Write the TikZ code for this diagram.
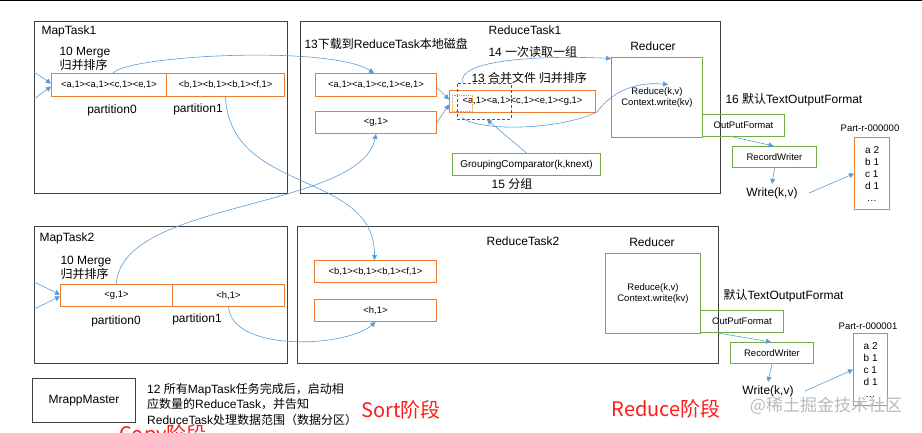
\documentclass[tikz,border=0pt]{standalone}
\usepackage{fontspec}
\setmainfont{Liberation Sans}
\newfontfamily\zhfont{Noto Sans CJK SC}
\usetikzlibrary{arrows.meta}
\definecolor{framegray}{HTML}{404040}
\definecolor{boxorange}{HTML}{ED7D31}
\definecolor{boxgreen}{HTML}{70AD47}
\definecolor{flowblue}{HTML}{5B9BD5}
\definecolor{phasered}{HTML}{FF1A1A}

\begin{document}
\begin{tikzpicture}[x=1pt, y=-1pt, font=\fontsize{12}{14}\selectfont,
  task/.style={draw=framegray, line width=1.2pt, anchor=north west, inner sep=0pt},
  kvbox/.style={draw=boxorange, line width=1pt, anchor=north west, inner sep=0pt,
                font=\fontsize{9.4}{10}\selectfont},
  fnbox/.style={draw=boxgreen, line width=1pt, anchor=north west, inner sep=0pt,
                font=\fontsize{9.5}{11.5}\selectfont},
  outfile/.style={draw=boxorange, line width=1.3pt, anchor=north west, inner sep=0pt,
                  align=left, font=\fontsize{10}{12}\selectfont},
  flow/.style={flowblue, line width=0.6pt, -{Triangle[length=5pt, width=5pt]}},
  phase/.style={text=phasered, font=\zhfont\fontsize{20}{22}\selectfont}]

\path[use as bounding box] (0,0) rectangle (922,432);
\clip (0,0) rectangle (922,432);
\draw[black, line width=1.3pt] (0,0.7) -- (922,0.7);

% ---- task frames --------------------------------------------------------
\node[task, minimum width=253pt, minimum height=172pt] (mapA) at (34,21) {};
\node[task, minimum width=420pt, minimum height=172pt] (redTA) at (300,21) {};
\node[task, minimum width=253pt, minimum height=137pt] (mapB) at (34,226) {};
\node[task, minimum width=421pt, minimum height=137pt] (redTB) at (297,226) {};
\node[task, line width=1pt, minimum width=103pt, minimum height=44pt] (master) at (32,378) {MrappMaster};

% ---- MapTask1 -----------------------------------------------------------
\node[anchor=west] (mapAlbl) at (38,31) {MapTask1};
\node[anchor=west, align=left] (mergeA) at (56,58.5) {10 Merge\\{\zhfont 归并排序}};
\node[kvbox, minimum width=115pt, minimum height=23pt] (pA0) at (51,73) {<a,1><a,1><c,1><e,1>};
\node[kvbox, minimum width=118pt, minimum height=23pt] (pA1) at (166,73) {<b,1><b,1><b,1><f,1>};
\node (pA0lbl) at (112,110) {partition0};
\node (pA1lbl) at (198,109) {partition1};
\coordinate (inA1) at (34,72);
\coordinate (inA2) at (34,99);

% ---- MapTask2 -----------------------------------------------------------
\node[anchor=west] (mapBlbl) at (36,238) {MapTask2};
\node[anchor=west, align=left] (mergeB) at (57,268) {10 Merge\\{\zhfont 归并排序}};
\node[kvbox, minimum width=112pt, minimum height=22pt] (pB0) at (60,284) {<g,1>};
\node[kvbox, minimum width=112pt, minimum height=22pt] (pB1) at (172,284) {<h,1>};
\node (pB0lbl) at (116,321) {partition0};
\node (pB1lbl) at (197,319) {partition1};
\coordinate (inB1) at (34,282);
\coordinate (inB2) at (34,309);

% ---- ReduceTask1 --------------------------------------------------------
\node (redTAlbl) at (525,30) {ReduceTask1};
\node[anchor=west] (copyA) at (301,44) {13{\zhfont 下载到}ReduceTask{\zhfont 本地磁盘}};
\node[anchor=west] (readA) at (485,52) {14 {\zhfont 一次读取一组}};
\node[anchor=west] (sortA) at (468,78) {13 {\zhfont 合并文件 归并排序}};
\node[kvbox, minimum width=121pt, minimum height=23pt] (rA1) at (315,73) {<a,1><a,1><c,1><e,1>};
\node[kvbox, minimum width=121pt, minimum height=22pt] (rA2) at (315,111) {<g,1>};
\node[kvbox, minimum width=146pt, minimum height=22pt] (mrgA) at (449,90) {<a,1><a,1><c,1><e,1><g,1>};
\node[draw=gray!60!blue, densely dashed, line width=0.6pt, anchor=north west, inner sep=0pt,
      minimum width=54pt, minimum height=36pt] (grpwin) at (457,83) {};
\node[draw=boxorange!80!yellow, densely dotted, line width=0.8pt, anchor=north west, inner sep=0pt,
      minimum width=20pt, minimum height=16pt] (keywin) at (452,95) {};
\node[fnbox, minimum width=148pt, minimum height=22pt, font=\fontsize{10}{12}\selectfont] (gcA) at (452,153) {GroupingComparator(k,knext)};
\node (grpA) at (512,184) {15 {\zhfont 分组}};

% ---- Reducer 1 and output -----------------------------------------------
\node (rdrAlbl) at (653,46) {Reducer};
\node[fnbox, minimum width=91pt, minimum height=80pt, align=center] (rdrA) at (611,57) {Reduce(k,v)\\Context.write(kv)};
\node[fnbox, minimum width=82pt, minimum height=22pt] (outA) at (702,114) {OutPutFormat};
\node[anchor=west] (fmtA) at (722,100) {16 {\zhfont 默认}TextOutputFormat};
\node[fnbox, minimum width=84pt, minimum height=21pt] (rwA) at (732,146) {RecordWriter};
\node (wrA) at (772,193) {Write(k,v)};
\node[font=\fontsize{9.5}{11}\selectfont] (partAlbl) at (870,128) {Part-r-000000};
\node[outfile, minimum width=35pt, minimum height=72pt] (partA) at (854,137) {a 2\\b 1\\c 1\\d 1\\\,…};

% ---- ReduceTask2 --------------------------------------------------------
\node (redTBlbl) at (523,241) {ReduceTask2};
\node[kvbox, minimum width=122pt, minimum height=22pt] (rB1) at (314,260) {<b,1><b,1><b,1><f,1>};
\node[kvbox, minimum width=122pt, minimum height=22pt] (rB2) at (314,299) {<h,1>};

% ---- Reducer 2 and output -----------------------------------------------
\node (rdrBlbl) at (652,242) {Reducer};
\node[fnbox, minimum width=95pt, minimum height=80pt, align=center] (rdrB) at (605,253) {Reduce(k,v)\\Context.write(kv)};
\node[fnbox, minimum width=83pt, minimum height=22pt] (outB) at (700,310) {OutPutFormat};
\node[anchor=west] (fmtB) at (720,296) {{\zhfont 默认}TextOutputFormat};
\node[fnbox, minimum width=83pt, minimum height=21pt] (rwB) at (730,342) {RecordWriter};
\node (wrB) at (768,391) {Write(k,v)};
\node[font=\fontsize{9.5}{11}\selectfont] (partBlbl) at (868,326) {Part-r-000001};
\node[outfile, minimum width=34pt, minimum height=72pt] (partB) at (853,333) {a 2\\b 1\\c 1\\d 1\\\,…};

% ---- master note and phases ---------------------------------------------
\node[anchor=west, align=left, inner sep=0pt, font=\fontsize{12}{15.5}\selectfont] (note) at (147,404)
  {12 {\zhfont 所有}MapTask{\zhfont 任务完成后，启动相}\\{\zhfont 应数量的}ReduceTask{\zhfont ，并告知}\\ReduceTask{\zhfont 处理数据范围（数据分区）}};
\node[phase] (sortlbl) at (401,410) {Sort阶段};
\node[phase] (copylbl) at (163,435) {Copy阶段};
\node[phase] (reducelbl) at (666,409) {Reduce阶段};
\node[text=gray!55, font=\zhfont\fontsize{17}{19}\selectfont] (wmark) at (826,406) {@稀土掘金技术社区};

% ---- connectors ---------------------------------------------------------
\draw[flow] (inA1) -- ([yshift=1.5pt]pA0.west);
\draw[flow] (inA2) -- ([yshift=-1.5pt]pA0.west);
\draw[flow] (inB1) -- ([yshift=1pt]pB0.west);
\draw[flow] (inB2) -- ([yshift=-1pt]pB0.west);

\draw[flow] ([xshift=4pt]pA0.north) .. controls (130,55) and (330,45) .. ([xshift=-2pt]rA1.north);
\draw[flow] (pA1.south) .. controls (230,195) and (375,170) .. ([xshift=-1pt]rB1.north);
\draw[flow] (pB0.north) .. controls (120,200) and (360,210) .. (rA2.south);
\draw[flow] (pB1.south) .. controls (232,352) and (345,348) .. (rB2.south);

\draw[flow] ([yshift=-2.5pt]rA1.east) -- ([yshift=2pt]mrgA.west);
\draw[flow] (rA2.east) -- ([yshift=-3pt]mrgA.west);
\draw[flow] (gcA.north) -- ([xshift=30pt]grpwin.south west);
\draw[flow] ([xshift=6pt]grpwin.north west) .. controls (455,60) and (540,55) .. ([yshift=-1.5pt]rdrA.north west);
\draw[flow] ([xshift=5pt, yshift=2pt]grpwin.south west) .. controls (480,132) and (560,130) .. (597,112)
  .. controls (615,88) and (640,82) .. ([xshift=11pt, yshift=13pt]rdrA.center);

\draw[flow] ([xshift=-10pt]outA.south) -- ([xshift=-1pt]rwA.north);
\draw[flow] (rwA.south) -- (wrA.north);
\draw[flow] ([xshift=8pt]wrA.east) -- (partA.west);
\draw[flow] ([xshift=-24pt]outB.south) -- ([xshift=-1pt]rwB.north);
\draw[flow] (rwB.south) -- (wrB.north);
\draw[flow] ([xshift=8pt]wrB.east) -- (partB.west);
\end{tikzpicture}
\end{document}
